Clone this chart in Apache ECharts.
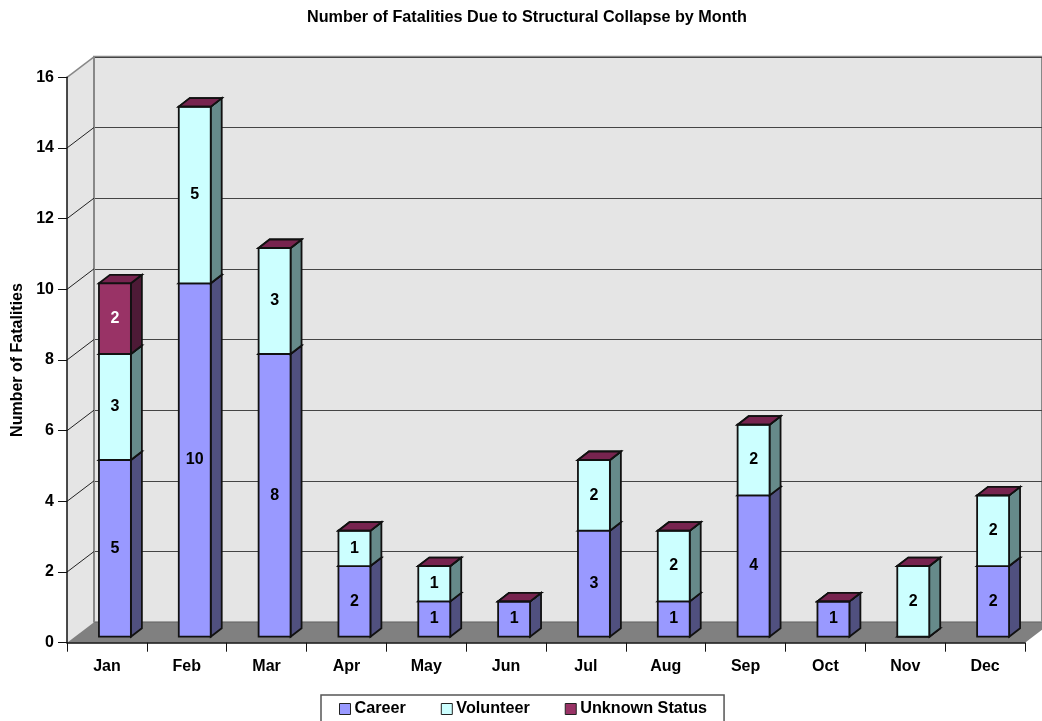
<!DOCTYPE html>
<html>
<head>
<meta charset="utf-8">
<style>html,body{margin:0;padding:0;background:#fff;overflow:hidden}#chart{width:1042px;height:721px}</style>
<script src="https://cdn.jsdelivr.net/npm/echarts@6/dist/echarts.min.js"></script>
</head>
<body>
<div id="chart"></div>
<script>
const months = ['Jan','Feb','Mar','Apr','May','Jun','Jul','Aug','Sep','Oct','Nov','Dec'];
const career = [5,10,8,2,1,1,3,1,4,1,0,2];
const volunteer = [3,5,3,1,1,0,2,2,2,0,2,2];
const unknownStatus = [2,0,0,0,0,0,0,0,0,0,0,0];
const yTicks = [0,2,4,6,8,10,12,14,16];

const FONT = '"Liberation Sans", Arial, sans-serif';
const DEPTH = [27, -20.5];      // offset from the front plane to the back wall
const BAR_FRONT = [8, -6];      // front face of a bar, measured from the front plane
const BAR_DEPTH = [11, -8.5];   // depth of a bar

const stacks = [
  {name:'Career', values:career, front:'#9999ff', side:'#50507f', label:'#000'},
  {name:'Volunteer', values:volunteer, front:'#ccffff', side:'#668a8a', label:'#000'},
  {name:'Unknown Status', values:unknownStatus, front:'#993366', side:'#4d1a36', label:'#fff'}
];
const TOP_COLOR = '#77244f';

function poly(points, fill, stroke, width) {
  return {type:'polygon', shape:{points}, style:{fill, stroke, lineWidth:width === undefined ? 1.8 : width}};
}

// Side wall and floor of the chart box, with the wall's diagonal gridlines
function renderWalls(params, api) {
  const v = api.value(0);
  const y = api.coord([0, v])[1];
  const cs = params.coordSys;
  const x0 = cs.x, x1 = cs.x + cs.width;
  const children = [];
  if (params.dataIndex === 0) {
    const yTop = api.coord([0, 16])[1];
    children.push(poly([[x0,y],[x0+DEPTH[0],y+DEPTH[1]],[x0+DEPTH[0],yTop+DEPTH[1]],[x0,yTop]], '#e5e5e5', 'none', 0));
    children.push(poly([[x0,y],[x0+DEPTH[0],y+DEPTH[1]],[x1+DEPTH[0],y+DEPTH[1]],[x1,y]], '#808080', 'none', 0));
    children.push({type:'line', shape:{x1:x0+DEPTH[0], y1:y+DEPTH[1], x2:x0+DEPTH[0], y2:yTop+DEPTH[1]},
      style:{stroke:'#888', lineWidth:2}});
  }
  if (v > 0) {
    children.push({type:'line', shape:{x1:x0, y1:y, x2:x0+DEPTH[0], y2:y+DEPTH[1]},
      style:{stroke: v === 16 ? '#888' : '#222', lineWidth: v === 16 ? 1.5 : 1}});
  }
  return {type:'group', children};
}

// One stacked segment: front face, shaded side and maroon cap
function renderSegment(stack) {
  return function (params, api) {
    const i = api.value(0), base = api.value(1), top = api.value(2);
    const w = api.size([1, 0])[0] * 0.4;
    const pb = api.coord([i, base]), pt = api.coord([i, top]);
    const l = pb[0] - w / 2 + BAR_FRONT[0], r = l + w;
    const yb = pb[1] + BAR_FRONT[1], yt = pt[1] + BAR_FRONT[1];
    const dx = BAR_DEPTH[0], dy = BAR_DEPTH[1];
    const children = [
      poly([[r,yb],[r+dx,yb+dy],[r+dx,yt+dy],[r,yt]], stack.side, '#111'),
      poly([[l,yt],[l+dx,yt+dy],[r+dx,yt+dy],[r,yt]], TOP_COLOR, '#111'),
      poly([[l,yb],[r,yb],[r,yt],[l,yt]], stack.front, '#111')
    ];
    if (top > base) {
      children.push({type:'text', style:{
        text:String(top - base), x:(l+r)/2, y:(yb+yt)/2, align:'center', verticalAlign:'middle',
        fill:stack.label, font:'bold 16px ' + FONT}, z2:20});
    }
    return {type:'group', children};
  };
}

const running = months.map(() => 0);
const barSeries = stacks.map(stack => {
  const rows = stack.values.map((v, i) => {
    const row = [i, running[i], running[i] + v];
    running[i] += v;
    return row;
  });
  return {
    name:stack.name, type:'custom', xAxisIndex:0, yAxisIndex:0, clip:false, silent:true, z:5,
    itemStyle:{color:stack.front},
    encode:{x:0, y:[1,2]},
    data:rows, renderItem:renderSegment(stack)
  };
});

const chart = echarts.init(document.getElementById('chart'), null, {renderer:'canvas'});
chart.setOption({
  animation:false,
  backgroundColor:'#fff',
  textStyle:{fontFamily:FONT},
  title:{text:'Number of Fatalities Due to Structural Collapse by Month', left:307, top:10, padding:0,
    textStyle:{fontFamily:FONT, fontSize:16.2, fontWeight:'bold', color:'#000'}},
  legend:{
    left:321, top:695, icon:'rect', itemWidth:11, itemHeight:11, itemGap:35,
    padding:[6,17,8,18], backgroundColor:'#fff', borderColor:'#555', borderWidth:1.5,
    itemStyle:{borderColor:'#222', borderWidth:1},
    textStyle:{fontFamily:FONT, fontSize:16.2, fontWeight:'bold', color:'#000', padding:[0,0,0,-1]},
    data:stacks.map(s => s.name)
  },
  grid:[
    {left:67, top:77.3, width:958, height:565.4},
    {left:94, top:56.8, width:958, height:565.4, show:true, backgroundColor:'#e5e5e5', borderColor:'#888', borderWidth:2, z:0}
  ],
  xAxis:[
    {type:'category', gridIndex:0, data:months, z:4,
     axisLine:{lineStyle:{color:'#111', width:1.5}},
     axisTick:{show:true, length:9, lineStyle:{color:'#111', width:1}},
     axisLabel:{fontFamily:FONT, fontSize:16, fontWeight:'bold', color:'#000', margin:16}},
    {type:'category', gridIndex:1, data:months, show:false}
  ],
  yAxis:[
    {type:'value', gridIndex:0, min:0, max:16, interval:2, z:4,
     name:'Number of Fatalities', nameLocation:'middle', nameGap:41, nameRotate:90,
     nameTextStyle:{fontFamily:FONT, fontSize:16, fontWeight:'bold', color:'#000'},
     axisLine:{show:true, lineStyle:{color:'#111', width:1.5}},
     axisTick:{show:true, length:9, lineStyle:{color:'#111', width:1}},
     axisLabel:{fontFamily:FONT, fontSize:16, fontWeight:'bold', color:'#000', margin:13,
       formatter:v => yTicks.includes(v) ? String(v) : ''},
     splitLine:{show:false}},
    {type:'value', gridIndex:1, min:0, max:16, interval:2, z:1,
     axisLine:{show:false}, axisTick:{show:false}, axisLabel:{show:false},
     splitLine:{show:true, lineStyle:{color:'#444', width:1}}}
  ],
  series:[
    {type:'custom', xAxisIndex:0, yAxisIndex:0, clip:false, silent:true, z:2,
     data:yTicks.map(v => [v]), encode:{y:0}, renderItem:renderWalls},
    ...barSeries
  ]
});
</script>
</body>
</html>
